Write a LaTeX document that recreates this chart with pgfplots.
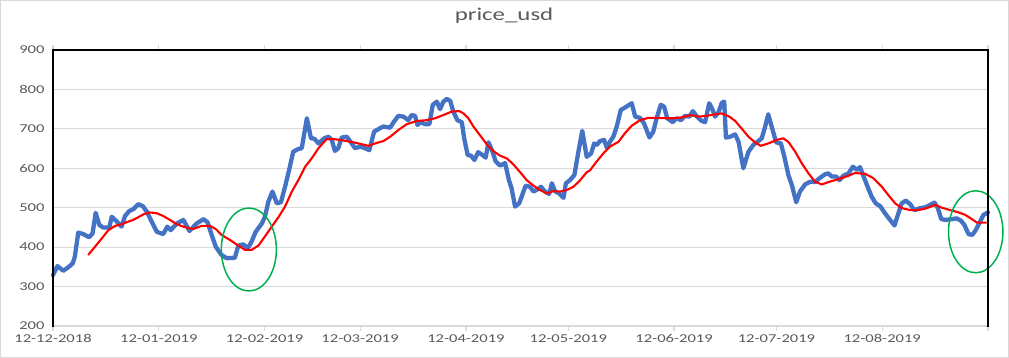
\documentclass[border=0pt]{standalone}
\usepackage{fontspec}
\setmainfont[FakeStretch=1.38]{Carlito}
\usepackage{pgfplots}
\pgfplotsset{compat=1.18}
\definecolor{bl}{HTML}{4472C4}
\definecolor{tx}{HTML}{595959}
\definecolor{gr}{HTML}{D9D9D9}
\definecolor{ell}{HTML}{00B050}
\begin{document}
\begin{tikzpicture}[x=1pt,y=1pt]
\useasboundingbox (0,0) rectangle (1009,358);
\draw[gr, line width=1pt] (0.5,0.5) rectangle (1008.5,357.5);
\begin{axis}[at={(53pt,32pt)}, anchor=south west, scale only axis,
  width=935pt, height=276pt,
  xmin=0, xmax=274, ymin=200, ymax=900,
  ytick={200,300,400,500,600,700,800,900},
  xtick={0,31,62,90,121,151,182,212,243,274},
  xticklabels={12-12-2018,12-01-2019,12-02-2019,12-03-2019,12-04-2019,12-05-2019,12-06-2019,12-07-2019,12-08-2019,{}},
  ymajorgrids, grid style={gr, line width=1.2pt},
  axis line style={draw=none},
  tick align=outside, ytick style={draw=none}, xtick style={gr, line width=1.2pt},
  major tick length=5pt,
  ticklabel style={font=\fontsize{12}{13}\selectfont, text=tx},
  /pgf/number format/assume math mode=true,
  title={price\_usd},
  title style={at={(0.4824,1)}, anchor=center, yshift=28pt, font=\fontsize{18}{20}\selectfont, text=tx},
  clip=false]
\addplot[bl, line width=4.3pt, line join=round, line cap=round] coordinates {
(0,329)(1.3,352)(3.0,340)(4.5,349)(5.8,359)(6.4,376)(7.4,437)(8.9,433)(10.6,425)(11.6,435)
(12.5,487)(13.6,456)(14.7,450)(16.5,450)(17.2,477)(18.7,465)(20.1,452)(21.1,479)(22.4,492)(23.5,496)
(25.0,509)(26.3,504)(27.5,490)(28.9,465)(30.4,439)(32.3,433)(33.5,452)(34.5,443)(36.3,460)(38.2,469)
(40.0,441)(42.1,460)(44.1,471)(45.3,463)(46.5,431)(47.7,401)(49.4,380)(50.9,372)(53.3,373)(54.3,404)
(55.8,407)(57.1,397)(58.2,414)(59.4,439)(61.2,460)(62.1,477)(63.1,515)(64.3,541)(65.6,511)(66.8,514)
(68.0,553)(69.2,596)(70.4,642)(71.9,649)(72.9,651)(74.4,727)(75.6,676)(76.6,675)(77.8,663)(79.5,676)
(80.7,680)(81.7,672)(82.6,644)(83.6,651)(84.6,678)(86.1,680)(87.2,667)(88.5,651)(90.0,655)(91.4,651)
(92.7,646)(94.1,693)(95.3,699)(96.8,706)(98.8,703)(99.9,718)(101.2,733)(102.7,731)(104.1,722)(105.1,735)
(106.1,733)(106.8,710)(107.8,717)(109.0,712)(110.3,712)(111.3,761)(112.5,769)(113.4,750)(114.4,769)(115.4,776)
(116.4,771)(117.3,744)(118.5,722)(119.8,717)(120.5,676)(121.5,634)(122.5,632)(123.5,621)(124.6,641)(125.8,634)
(126.8,627)(127.6,666)(128.8,642)(129.7,618)(131.0,607)(132.5,613)(133.6,570)(134.4,549)(135.4,503)(136.6,511)
(137.5,532)(138.5,556)(139.8,553)(140.8,541)(142.1,547)(143.0,553)(144.2,541)(145.4,535)(146.2,562)(147.1,542)
(148.3,536)(149.6,525)(150.3,562)(151.5,570)(152.8,583)(153.8,634)(155.1,695)(156.4,629)(157.7,638)(158.6,663)
(159.3,659)(160.3,669)(161.5,672)(162.3,652)(163.2,667)(164.2,680)(165.2,706)(166.4,748)(167.6,754)(169.6,765)
(170.6,731)(172.0,728)(173.2,714)(174.8,678)(175.9,693)(176.9,727)(178.1,761)(179.1,756)(180.0,727)(181.6,717)
(182.8,727)(184.0,722)(185.2,733)(186.5,731)(187.5,745)(188.7,731)(190.1,720)(191.1,717)(192.3,765)(193.3,748)
(194.0,731)(195.0,742)(196.0,766)(196.7,769)(197.2,678)(198.4,680)(199.9,686)(200.9,667)(202.3,600)(203.8,642)
(205.2,659)(206.7,669)(207.7,676)(208.7,706)(209.6,737)(210.6,706)(211.9,666)(213.3,663)(214.2,634)(215.5,583)
(216.5,558)(217.8,514)(218.9,541)(220.4,559)(221.9,566)(223.3,565)(224.8,576)(226.3,585)(227.2,587)(228.2,579)
(229.5,579)(230.5,570)(231.6,581)(233.1,587)(234.4,604)(235.6,596)(236.5,603)(237.2,587)(238.5,558)(239.9,528)
(241.1,511)(242.4,504)(243.8,486)(245.3,469)(246.6,455)(247.6,482)(248.7,511)(249.9,518)(251.2,509)(252.4,494)
(254.1,499)(255.6,501)(257.0,507)(258.3,513)(259.3,499)(260.3,471)(261.6,469)(263.4,471)(264.8,473)(266.1,467)
(267.1,456)(268.3,433)(269.4,431)(270.4,443)(271.7,465)(272.7,482)(274.0,488)
};
\addplot[red, line width=2.1pt, line join=round] coordinates {
(10.3,380)(12.3,401)(14.3,422)(16.2,443)(18.2,454)(20.1,458)(22.1,465)(23.5,469)(25.0,476)(26.7,484)
(28.4,488)(30.4,486)(32.3,479)(34.3,469)(36.3,458)(38.2,452)(39.9,448)(41.1,446)(43.6,454)(46.0,454)
(47.7,446)(49.4,431)(51.9,418)(54.3,404)(56.3,393)(58.2,393)(60.2,404)(62.1,427)(64.1,452)(66.0,475)
(68.0,503)(70.0,541)(71.9,570)(73.9,604)(75.8,625)(77.8,651)(80.2,674)(82.2,674)(84.1,672)(86.1,669)
(88.0,666)(90.5,661)(92.4,657)(94.4,663)(96.8,669)(98.8,680)(101.2,697)(103.7,712)(106.6,720)(109.5,722)
(112.0,727)(114.4,735)(116.9,744)(119.1,745)(120.3,739)(121.7,727)(123.2,706)(125.1,684)(127.1,661)(129.0,644)
(131.0,632)(133.0,625)(134.9,610)(136.9,590)(138.8,570)(140.8,556)(142.7,545)(144.7,536)(146.6,542)(148.6,541)
(150.6,545)(152.5,553)(154.5,570)(156.4,590)(157.4,595)(159.3,617)(161.3,638)(163.2,655)(165.7,667)(167.6,689)
(169.6,708)(172.0,722)(174.5,728)(176.9,728)(179.4,727)(181.8,727)(184.3,729)(186.7,735)(189.1,731)(191.6,733)
(194.0,737)(196.0,739)(198.2,731)(199.9,720)(201.8,701)(203.8,680)(205.7,666)(207.4,657)(209.6,663)(212.1,672)
(214.0,676)(215.5,667)(217.5,642)(219.4,613)(221.4,587)(223.3,566)(225.3,559)(227.2,565)(229.2,570)(231.1,575)
(233.1,581)(235.0,588)(238.0,586)(240.4,575)(242.9,553)(244.8,532)(246.8,511)(248.7,499)(251.2,494)(253.6,494)
(256.1,499)(258.5,507)(260.5,500)(262.9,494)(265.4,488)(267.3,482)(269.3,471)(270.8,462)(272.2,462)(273.6,462)
};
\draw[ell, line width=1.5pt] (axis cs:57.4,394) ellipse [x radius=27.5pt, y radius=41.5pt];
\draw[ell, line width=1.5pt] (axis cs:270.4,439) ellipse [x radius=27.2pt, y radius=41pt];
\end{axis}
\draw[gr, line width=1.2pt] (53,32) -- (988,32);
\draw[black, line width=1.7pt] (53,31.2) -- (53,308) -- (988,308) -- (988,31.2);
\end{tikzpicture}
\end{document}
